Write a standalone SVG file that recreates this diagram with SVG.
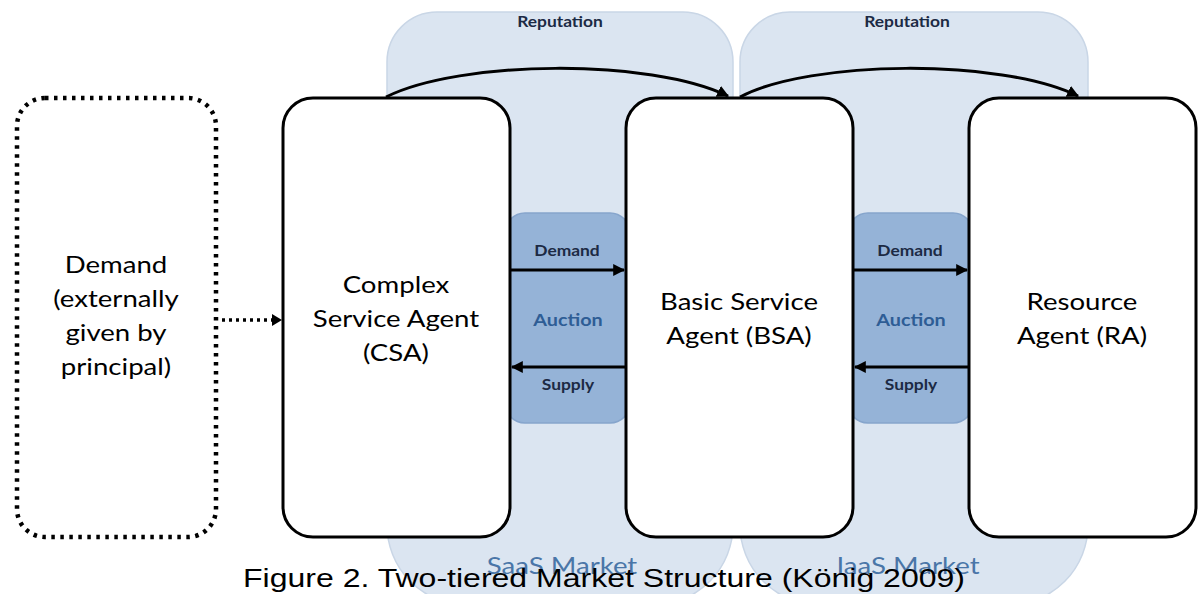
<svg xmlns="http://www.w3.org/2000/svg" width="1199" height="594" viewBox="0 0 1199 594">
<defs>
<style>
.market{fill:#dbe5f1;stroke:#c9d6e6;stroke-width:1.5}
.auction{fill:#95b3d7;stroke:#86a5cc;stroke-width:1.5}
.agent{fill:#fff;stroke:#000;stroke-width:3}
.ext{fill:#fff;stroke:#000;stroke-width:4.5;stroke-dasharray:3.5 5.5}
.big{font-family:Lato,"Liberation Sans",sans-serif;font-size:23px;fill:#000;text-anchor:middle}
.small{font-family:Lato,"Liberation Sans",sans-serif;font-size:14.5px;font-weight:bold;fill:#1c2a44;text-anchor:middle}
.auct{font-family:Lato,"Liberation Sans",sans-serif;font-size:16.5px;font-weight:bold;fill:#2e5d95;text-anchor:middle}
.mk{font-family:Lato,"Liberation Sans",sans-serif;font-size:23px;fill:#4a76a8;text-anchor:middle}
.cap{font-family:"Liberation Sans",Arial,sans-serif;font-size:26.5px;fill:#000}
.conn{fill:none;stroke:#000;stroke-width:3}
.dot{fill:none;stroke:#000;stroke-width:3.5;stroke-dasharray:3 4}
</style>
<marker id="ah" viewBox="0 0 10 10" refX="9" refY="5" markerWidth="4" markerHeight="4" orient="auto" markerUnits="strokeWidth">
<path d="M0,0 L10,5 L0,10 z" fill="#000"/>
</marker>
</defs>
<rect width="1199" height="594" fill="#fff"/>
<g id="saas-market">
<path class="market" d="M437,12 L683,12 A50,50 0 0 1 733,62 L733,525 A80,80 0 0 1 653,605 L467,605 A80,80 0 0 1 387,525 L387,62 A50,50 0 0 1 437,12 Z"/>
</g>
<g id="iaas-market">
<path class="market" d="M790,12 L1038,12 A50,50 0 0 1 1088,62 L1088,525 A80,80 0 0 1 1008,605 L820,605 A80,80 0 0 1 740,525 L740,62 A50,50 0 0 1 790,12 Z"/>
</g>
<g id="saas-auction">
<rect class="auction" x="505" y="213" width="125" height="210" rx="20" ry="20"/>
<text class="auct" transform="translate(568,326) scale(1.2,1)">Auction</text>
</g>
<g id="iaas-auction">
<rect class="auction" x="848" y="213" width="125" height="210" rx="20" ry="20"/>
<text class="auct" transform="translate(911,326) scale(1.2,1)">Auction</text>
</g>
<g id="demand-ext">
<rect class="ext" x="17" y="98" width="199" height="439" rx="28" ry="28"/>
<g transform="translate(116,0) scale(1.2,1)">
<text class="big" x="0" y="273">Demand</text>
<text class="big" x="0" y="307">(externally</text>
<text class="big" x="0" y="341">given by</text>
<text class="big" x="0" y="375">principal)</text>
</g>
</g>
<g id="csa">
<rect class="agent" x="283" y="98" width="227" height="439" rx="30" ry="30"/>
<g transform="translate(396,0) scale(1.2,1)">
<text class="big" x="0" y="293">Complex</text>
<text class="big" x="0" y="327">Service Agent</text>
<text class="big" x="0" y="361">(CSA)</text>
</g>
</g>
<g id="bsa">
<rect class="agent" x="626" y="98" width="227" height="439" rx="30" ry="30"/>
<g transform="translate(739,0) scale(1.2,1)">
<text class="big" x="0" y="310">Basic Service</text>
<text class="big" x="0" y="344">Agent (BSA)</text>
</g>
</g>
<g id="ra">
<rect class="agent" x="969" y="98" width="227" height="439" rx="30" ry="30"/>
<g transform="translate(1082,0) scale(1.2,1)">
<text class="big" x="0" y="310">Resource</text>
<text class="big" x="0" y="344">Agent (RA)</text>
</g>
</g>
<g id="connectors">
<path class="conn" d="M386,97 C460,60 650,58 728,96" marker-end="url(#ah)"/>
<path class="conn" d="M740,97 C810,60 1000,58 1078,96" marker-end="url(#ah)"/>
<path class="conn" d="M511,270 L624,270" marker-end="url(#ah)"/>
<path class="conn" d="M625,367 L512,367" marker-end="url(#ah)"/>
<path class="conn" d="M854,270 L967,270" marker-end="url(#ah)"/>
<path class="conn" d="M968,367 L855,367" marker-end="url(#ah)"/>
<path class="dot" d="M222,320 L274,320"/>
<path d="M272,314 L282,320 L272,326 z" fill="#000"/>
</g>
<g id="labels">
<text class="small" transform="translate(560,27) scale(1.2,1)">Reputation</text>
<text class="small" transform="translate(907,27) scale(1.2,1)">Reputation</text>
<text class="small" transform="translate(567,256) scale(1.2,1)">Demand</text>
<text class="small" transform="translate(568,390) scale(1.2,1)">Supply</text>
<text class="small" transform="translate(910,256) scale(1.2,1)">Demand</text>
<text class="small" transform="translate(911,390) scale(1.2,1)">Supply</text>
<text class="mk" transform="translate(562,574) scale(1.2,1)">SaaS Market</text>
<text class="mk" transform="translate(908,574) scale(1.2,1)">IaaS Market</text>
<text class="cap" x="243" y="587" textLength="722" lengthAdjust="spacingAndGlyphs">Figure 2. Two-tiered Market Structure (König 2009)</text>
</g>
</svg>
